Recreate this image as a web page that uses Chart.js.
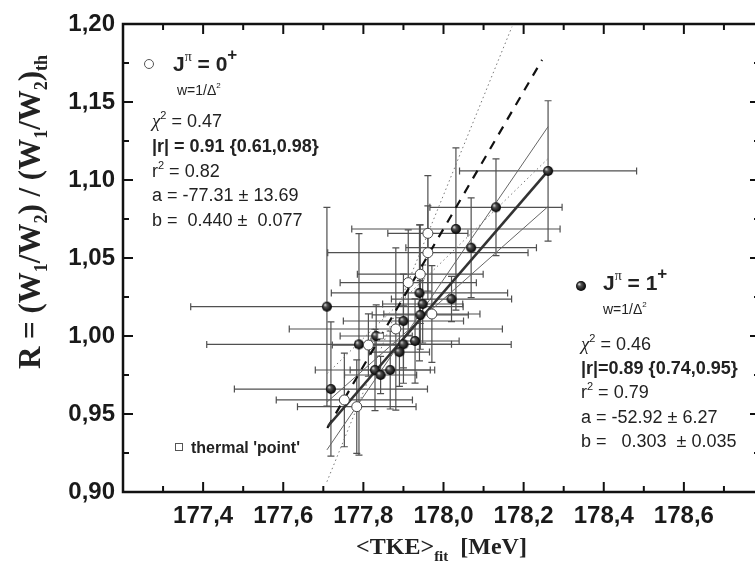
<!DOCTYPE html>
<html>
<head>
<meta charset="utf-8">
<script src="https://cdn.jsdelivr.net/npm/chart.js@4.4.1/dist/chart.umd.min.js"></script>
<style>
html, body { margin: 0; padding: 0; overflow: hidden; background: #fff; }
</style>
</head>
<body>
<canvas id="chart" width="770" height="566"></canvas>
<script>
// J = 1+ points (filled)
const tke1    = [178.261, 178.131, 178.031, 178.069, 178.020, 177.709, 177.940, 177.948, 177.942, 177.900, 177.832, 177.789, 177.929, 177.900, 177.890, 177.829, 177.843, 177.867, 177.719];
const r1      = [1.1058, 1.0825, 1.0686, 1.0566, 1.0237, 1.0188, 1.0276, 1.0205, 1.0135, 1.0096, 1.0000, 0.9946, 0.9968, 0.9947, 0.9897, 0.9782, 0.9750, 0.9782, 0.9660];
const tkeErr1 = [0.221, 0.165, 0.260, 0.163, 0.150, 0.340, 0.220, 0.100, 0.120, 0.150, 0.090, 0.380, 0.110, 0.120, 0.075, 0.149, 0.090, 0.100, 0.241];
const rErr1   = [0.045, 0.031, 0.052, 0.032, 0.0145, 0.0637, 0.0436, 0.025, 0.022, 0.030, 0.020, 0.071, 0.027, 0.025, 0.022, 0.026, 0.012, 0.025, 0.043];

// J = 0+ points (open)
const tke0    = [177.961, 177.961, 177.942, 177.912, 177.971, 177.881, 177.8125, 177.7525, 177.7835];
const r0      = [1.0658, 1.0534, 1.0396, 1.0342, 1.0141, 1.0045, 0.9942, 0.9590, 0.9547];
const tkeErr0 = [0.100, 0.250, 0.157, 0.170, 0.120, 0.266, 0.090, 0.170, 0.148];
const rErr0   = [0.037, 0.030, 0.0316, 0.0338, 0.031, 0.052, 0.020, 0.030, 0.030];

// thermal 'point'
const thermalTke = [177.843];
const thermalR   = [1.000];

// fits: J=1+ (thick solid + thin bands), J=0+ (dashed + dotted bands)
const fit1Tke  = [177.712, 178.261];
const fit1R    = [0.9423, 1.1058];
const band1Tke = [177.709, 178.261];
const band1aR  = [0.9270, 1.1342];
const band1bR  = [0.9576, 1.0830];
const fit0Tke  = [177.710, 178.246];
const fit0R    = [0.9410, 1.1770];
const dot0aTke = [177.709, 178.171];
const dot0aR   = [0.9066, 1.1983];
const dot0bTke = [177.710, 178.260];
const dot0bR   = [0.9760, 1.1135];

// axis ticks
const xTicks = [177.4, 177.6, 177.8, 178.0, 178.2, 178.4, 178.6];
const xMinor = [177.3, 177.5, 177.7, 177.9, 178.1, 178.3, 178.5, 178.7];
const yTicks = [0.90, 0.95, 1.00, 1.05, 1.10, 1.15, 1.20];
const yMinor = [0.925, 0.975, 1.025, 1.075, 1.125, 1.175];

const pts = (xs, ys) => xs.map((x, i) => ({x: x, y: ys[i]}));

function ball(r) {
    const c = document.createElement('canvas');
    c.width = c.height = 2 * r + 2;
    const g = c.getContext('2d');
    const grad = g.createRadialGradient(r + 1 - r * 0.4, r + 1 - r * 0.4, 0.3, r + 1, r + 1, r);
    grad.addColorStop(0, '#e0e0e0');
    grad.addColorStop(0.3, '#555');
    grad.addColorStop(1, '#000');
    g.fillStyle = grad;
    g.beginPath();
    g.arc(r + 1, r + 1, r, 0, Math.PI * 2);
    g.fill();
    return c;
}
const ballImg = ball(5);

// error bars under everything
const errorBars = {
    id: 'errorBars',
    beforeDatasetsDraw(chart) {
        const {ctx, scales: {x, y}} = chart;
        ctx.save();
        ctx.strokeStyle = '#505050';
        ctx.lineWidth = 1.2;
        chart.data.datasets.forEach(ds => {
            if (!ds.errX) return;
            ds.data.forEach((p, i) => {
                const px = x.getPixelForValue(p.x), py = y.getPixelForValue(p.y);
                const x0 = x.getPixelForValue(p.x - ds.errX[i]), x1 = x.getPixelForValue(p.x + ds.errX[i]);
                const y0 = y.getPixelForValue(p.y - ds.errY[i]), y1 = y.getPixelForValue(p.y + ds.errY[i]);
                const c = 3.5;
                ctx.beginPath();
                ctx.moveTo(x0, py); ctx.lineTo(x1, py);
                ctx.moveTo(x0, py - c); ctx.lineTo(x0, py + c);
                ctx.moveTo(x1, py - c); ctx.lineTo(x1, py + c);
                ctx.moveTo(px, y0); ctx.lineTo(px, y1);
                ctx.moveTo(px - c, y0); ctx.lineTo(px + c, y0);
                ctx.moveTo(px - c, y1); ctx.lineTo(px + c, y1);
                ctx.stroke();
            });
        });
        ctx.restore();
    }
};

// box with inward ticks on all sides
const frame = {
    id: 'frame',
    afterDraw(chart) {
        const {ctx, chartArea: a, scales: {x, y}} = chart;
        ctx.save();
        ctx.strokeStyle = '#111';
        ctx.lineWidth = 2.5;
        ctx.strokeRect(a.left, a.top, a.right - a.left, a.bottom - a.top);
        ctx.lineWidth = 2;
        ctx.beginPath();
        const tx = (v, len) => {
            const p = x.getPixelForValue(v);
            ctx.moveTo(p, a.bottom); ctx.lineTo(p, a.bottom - len);
            ctx.moveTo(p, a.top); ctx.lineTo(p, a.top + len);
        };
        const ty = (v, len) => {
            const p = y.getPixelForValue(v);
            ctx.moveTo(a.left, p); ctx.lineTo(a.left + len, p);
            ctx.moveTo(a.right, p); ctx.lineTo(a.right - len, p);
        };
        xTicks.forEach(v => tx(v, 10));
        xMinor.forEach(v => tx(v, 6));
        yTicks.forEach(v => ty(v, 10));
        yMinor.forEach(v => ty(v, 6));
        ctx.stroke();
        ctx.restore();
    }
};

function rich(ctx, x, y, parts) {
    parts.forEach(p => {
        ctx.font = p[1];
        ctx.fillText(p[0], x, y + (p[2] || 0));
        x += ctx.measureText(p[0]).width;
    });
    return x;
}
function richWidth(ctx, parts) {
    let w = 0;
    parts.forEach(p => { ctx.font = p[1]; w += ctx.measureText(p[0]).width; });
    return w;
}

const SANS = "'Liberation Sans', Arial, sans-serif";
const SERIF = "'Liberation Serif', 'Times New Roman', serif";

function statsBlock(ctx, x, y0, step, chi, r, rsq, a, b) {
    const f = '18px ' + SANS;
    rich(ctx, x, y0, [['\u03C7', 'italic 19px ' + SERIF], ['2', '11px ' + SANS, -8], [' = ' + chi, f]]);
    rich(ctx, x, y0 + step, [[r, 'bold 18px ' + SANS]]);
    rich(ctx, x, y0 + 2 * step, [['r', f], ['2', '11px ' + SANS, -8], [' = ' + rsq, f]]);
    rich(ctx, x, y0 + 3 * step, [[a, f]]);
    rich(ctx, x, y0 + 4 * step, [[b, f]]);
}

function jLabel(ctx, x, y, j) {
    rich(ctx, x, y, [
        ['J', 'bold 21px ' + SANS],
        ['\u03C0', '14px ' + SERIF, -10],
        [' = ' + j, 'bold 21px ' + SANS],
        ['+', 'bold 17px ' + SANS, -11]
    ]);
}
function wLabel(ctx, x, y) {
    rich(ctx, x, y, [['w=1/\u0394', '14px ' + SANS], ['2', '8px ' + SANS, -7]]);
}

const texts = {
    id: 'texts',
    afterDraw(chart) {
        const {ctx, chartArea: a} = chart;
        ctx.save();
        ctx.fillStyle = '#222';
        ctx.textBaseline = 'alphabetic';
        ctx.textAlign = 'left';

        // J=0+ block
        ctx.strokeStyle = '#555';
        ctx.lineWidth = 1;
        ctx.fillStyle = '#fff';
        ctx.beginPath(); ctx.arc(149, 64, 4.5, 0, Math.PI * 2); ctx.fill(); ctx.stroke();
        ctx.fillStyle = '#222';
        jLabel(ctx, 173, 71, '0');
        wLabel(ctx, 177, 95);
        statsBlock(ctx, 152, 127, 24.8, '0.47', '|r| = 0.91 {0.61,0.98}', '0.82',
            'a = -77.31 \u00B1 13.69', 'b =  0.440 \u00B1  0.077');

        // J=1+ block
        ctx.drawImage(ballImg, 581 - 6, 286 - 6);
        jLabel(ctx, 603, 290, '1');
        wLabel(ctx, 603, 314);
        statsBlock(ctx, 581, 350, 24.2, '0.46', '|r|=0.89 {0.74,0.95}', '0.79',
            'a = -52.92 \u00B1 6.27', 'b =   0.303  \u00B1 0.035');

        // thermal point legend
        ctx.strokeStyle = '#555';
        ctx.fillStyle = '#fff';
        ctx.strokeRect(175.5, 443.5, 7, 7);
        ctx.fillStyle = '#222';
        ctx.font = 'bold 16px ' + SANS;
        ctx.fillText("thermal 'point'", 191, 453);

        // y axis title
        const big = 'bold 31px ' + SERIF, sub = 'bold 18px ' + SERIF;
        const yt = [['R = (W', big], ['1', sub, 7], ['/W', big], ['2', sub, 7], [') / (W', big],
                    ['1', sub, 7], ['/W', big], ['2', sub, 7], [')', big], ['th', sub, 7]];
        ctx.save();
        ctx.translate(40, 212);
        ctx.rotate(-Math.PI / 2);
        rich(ctx, -richWidth(ctx, yt) / 2, 0, yt);
        ctx.restore();

        // x axis title
        const xt = [['<TKE>', 'bold 24px ' + SERIF], ['fit', 'bold 15px ' + SERIF, 7], ['  [MeV]', 'bold 24px ' + SERIF]];
        rich(ctx, (a.left + a.right) / 2 - richWidth(ctx, xt) / 2, 554, xt);
        ctx.restore();
    }
};

const tickFont = {family: SANS, size: 24, weight: 'bold'};

const ctx = document.getElementById('chart').getContext('2d');
new Chart(ctx, {
    type: 'scatter',
    data: {
        datasets: [
            {data: pts(thermalTke, thermalR), pointStyle: 'rect', pointRadius: 4, backgroundColor: '#fff', borderColor: '#666', borderWidth: 1, order: 0},
            {data: pts(tke0, r0), errX: tkeErr0, errY: rErr0, pointStyle: 'circle', pointRadius: 5, backgroundColor: '#fff', borderColor: '#444', borderWidth: 1, order: 1},
            {data: pts(tke1, r1), errX: tkeErr1, errY: rErr1, pointStyle: ballImg, order: 1},
            {data: pts(fit1Tke, fit1R), showLine: true, pointRadius: 0, borderColor: '#333', borderWidth: 2.6, order: 2},
            {data: pts(band1Tke, band1aR), showLine: true, pointRadius: 0, borderColor: '#666', borderWidth: 1, order: 3},
            {data: pts(band1Tke, band1bR), showLine: true, pointRadius: 0, borderColor: '#666', borderWidth: 1, order: 3},
            {data: pts(fit0Tke, fit0R), showLine: true, pointRadius: 0, borderColor: '#111', borderWidth: 2.2, borderDash: [9, 8], order: 2},
            {data: pts(dot0aTke, dot0aR), showLine: true, pointRadius: 0, borderColor: '#777', borderWidth: 1, borderDash: [1.5, 3], order: 3},
            {data: pts(dot0bTke, dot0bR), showLine: true, pointRadius: 0, borderColor: '#777', borderWidth: 1, borderDash: [1.5, 3], order: 3}
        ]
    },
    options: {
        responsive: false,
        animation: false,
        layout: {padding: {top: 24, right: 10, left: 0, bottom: 0}},
        plugins: {legend: {display: false}, tooltip: {enabled: false}},
        scales: {
            x: {
                type: 'linear', min: 177.2, max: 178.79,
                grid: {display: false, drawTicks: false},
                border: {display: false},
                ticks: {font: tickFont, color: '#1a1a1a', padding: 10, maxRotation: 0,
                        callback: v => v.toFixed(1).replace('.', ',')},
                afterBuildTicks: s => { s.ticks = xTicks.map(v => ({value: v})); },
                afterFit: s => { s.height = 74; }
            },
            y: {
                type: 'linear', min: 0.9, max: 1.2,
                grid: {display: false, drawTicks: false},
                border: {display: false},
                ticks: {font: tickFont, color: '#1a1a1a', padding: 8,
                        callback: v => v.toFixed(2).replace('.', ',')},
                afterBuildTicks: s => { s.ticks = yTicks.map(v => ({value: v})); },
                afterFit: s => { s.width = 123; }
            }
        }
    },
    plugins: [errorBars, frame, texts]
});
</script>
</body>
</html>
